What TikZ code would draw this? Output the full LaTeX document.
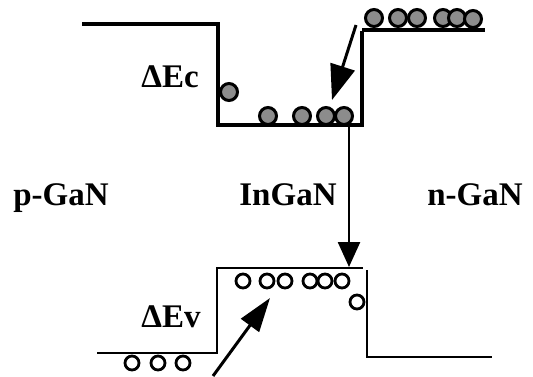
\documentclass[tikz,border=0pt]{standalone}
\usepackage{fontspec}
\setmainfont{Liberation Serif}
\usetikzlibrary{arrows.meta}

\begin{document}
\begin{tikzpicture}[x=1pt, y=-1pt,
    every node/.style={font=\fontsize{33}{36}\selectfont\bfseries},
    cband/.style={line width=3.5pt},
    vband/.style={line width=2.5pt},
    elec/.style={draw, circle, line width=3pt, fill=black!45,
      minimum size=17pt, inner sep=0pt},
    hole/.style={draw, circle, line width=2.8pt, fill=white,
      minimum size=14pt, inner sep=0pt}]
    \useasboundingbox (0,0) rectangle (533,376);
    % conduction band
    \draw[cband] (82,24) -- (218,24) -- (218,125) -- (362,125) -- (362,31);
    \draw[cband] (362,30) -- (485,30);
    % valence band
    \draw[vband] (97,353) -- (217,353) -- (217,268) -- (363,268);
    \draw[vband] (367,270) -- (367,357) -- (492,357);
    % electrons
    \node[elec] (e1) at (374,18) {};
    \node[elec] (e2) at (398,18) {};
    \node[elec] (e3) at (417,18) {};
    \node[elec] (e4) at (443,18) {};
    \node[elec] (e5) at (457,18) {};
    \node[elec] (e6) at (473,19) {};
    \node[elec] (e7) at (229,92) {};
    \node[elec] (e8) at (268,116) {};
    \node[elec] (e9) at (302,116) {};
    \node[elec] (e10) at (326,116) {};
    \node[elec] (e11) at (344,116) {};
    % holes
    \node[hole] (h1) at (243,281) {};
    \node[hole] (h2) at (267,281) {};
    \node[hole] (h3) at (285,281) {};
    \node[hole] (h4) at (310,281) {};
    \node[hole] (h5) at (325,281) {};
    \node[hole] (h6) at (342,281) {};
    \node[hole] (h7) at (357,302) {};
    \node[hole] (h8) at (132,363) {};
    \node[hole] (h9) at (158,363) {};
    \node[hole] (h10) at (183,363) {};
    % labels
    \node[anchor=base] (dec) at (170,87) {ΔEc};
    \node[anchor=base] (dev) at (171,327) {ΔEv};
    \node[anchor=base] (pgan) at (61,205) {p-GaN};
    \node[anchor=base] (ingan) at (288,205) {InGaN};
    \node[anchor=base] (ngan) at (475,205) {n-GaN};
    % arrows
    \coordinate (ein) at (356,25);
    \coordinate (ewell) at (332,100);
    \coordinate (rtop) at (349,125);
    \coordinate (rbot) at (349,267);
    \coordinate (hin) at (213,376);
    \coordinate (hwell) at (270,298);
    \draw[-{Triangle[length=35pt,width=25pt]}, line width=3pt] (ein) -- (ewell);
    \draw[-{Triangle[length=25pt,width=22pt]}, line width=2.5pt] (rtop) -- (rbot);
    \draw[-{Triangle[length=34pt,width=22pt]}, line width=3pt] (hin) -- (hwell);
  \end{tikzpicture}
\end{document}
